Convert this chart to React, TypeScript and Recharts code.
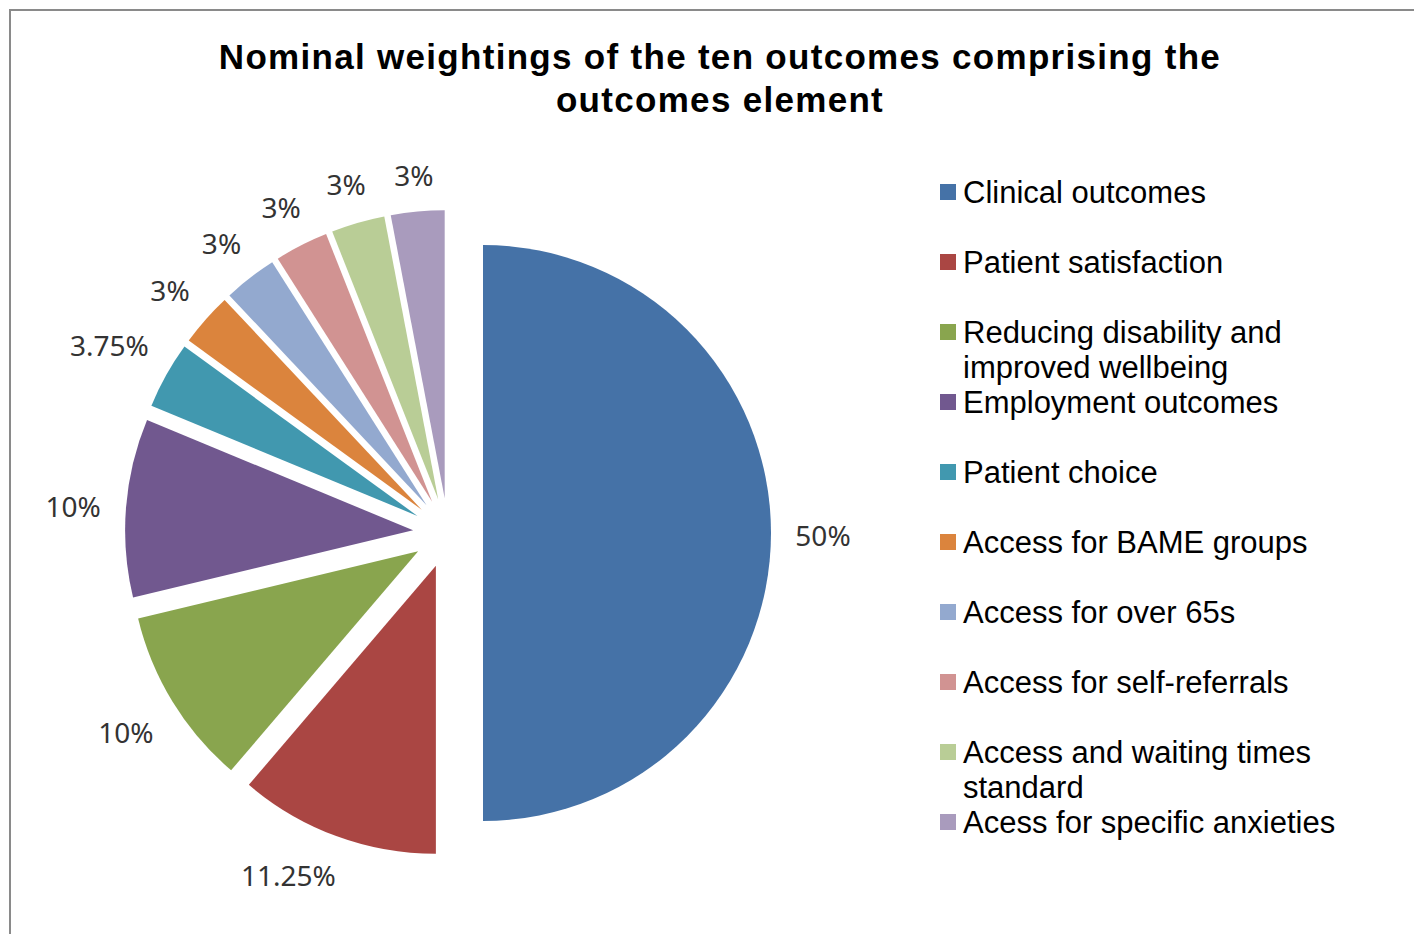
import React from 'react';
import { PieChart, Pie, Cell, Legend, Sector } from 'recharts';

const outcomes = [
  'Clinical outcomes',
  'Patient satisfaction',
  'Reducing disability and improved wellbeing',
  'Employment outcomes',
  'Patient choice',
  'Access for BAME groups',
  'Access for over 65s',
  'Access for self-referrals',
  'Access and waiting times standard',
  'Acess for specific anxieties',
];
const weightings = [50, 11.25, 10, 10, 3.75, 3, 3, 3, 3, 3];
const colors = ['#4572A7', '#AA4643', '#89A54E', '#71588F', '#4198AF', '#DB843D', '#93A9CF', '#D19392', '#B9CD96', '#A99BBD'];

const data = outcomes.map((name, i) => ({ name, value: weightings[i] }));

const RAD = Math.PI / 180;
const EXPLODE = 35;
const LABEL_MAX_Y = 873; // labels are kept inside the plot area

// each slice is pushed out along its mid angle (Excel style exploded pie)
const renderSlice = (props: any) => {
  const { cx, cy, midAngle, innerRadius, outerRadius, startAngle, endAngle, index, value } = props;
  const ux = Math.cos(-midAngle * RAD);
  const uy = Math.sin(-midAngle * RAD);
  const sx = cx + EXPLODE * ux;
  const sy = cy + EXPLODE * uy;
  const text = `${value}%`;
  const w = text.split('').reduce((s: number, c: string) => s + (c === '.' ? 7.5 : c === '%' ? 24 : 16), 0);
  const h = 26;
  const dist = outerRadius + 24 + (Math.abs(ux) * w) / 2 + (Math.abs(uy) * h) / 2;
  let lx = sx + dist * ux;
  let ly = sy + dist * uy;
  if (ly > LABEL_MAX_Y) {
    // slide the label round the same circle until it fits
    const dy = LABEL_MAX_Y - sy;
    const dx = Math.sqrt(Math.max(dist * dist - dy * dy, 0));
    lx = sx + (ux < 0 ? -dx : dx);
    ly = LABEL_MAX_Y;
  }
  return (
    <g>
      <Sector
        cx={sx}
        cy={sy}
        innerRadius={innerRadius}
        outerRadius={outerRadius}
        startAngle={startAngle}
        endAngle={endAngle}
        fill={colors[index]}
        stroke="none"
      />
      <text
        x={lx}
        y={ly + 2}
        textAnchor="middle"
        dominantBaseline="central"
        fontFamily='"Noto Sans", sans-serif'
        fontSize={28}
        fill="#333"
      >
        {text}
      </text>
    </g>
  );
};

const renderLegend = () => (
  <div style={{ fontFamily: '"Liberation Sans", Arial, sans-serif', fontSize: 31, lineHeight: '35px', color: '#000' }}>
    {outcomes.map((name, i) => (
      <div key={name} style={{ position: 'relative', minHeight: 70, paddingLeft: 23 }}>
        <span style={{ position: 'absolute', left: 0, top: 9, width: 16, height: 16, background: colors[i] }} />
        {name}
      </div>
    ))}
  </div>
);

export default function App() {
  return (
    <div style={{ position: 'absolute', left: 0, top: 0, width: 1414, height: 934, overflow: 'hidden', background: '#fff' }}>
      <div
        style={{
          position: 'absolute',
          left: 9,
          top: 9,
          width: 1440,
          height: 960,
          border: '2px solid #8a8a8a',
        }}
      />
      <div
        style={{
          position: 'absolute',
          left: 0,
          top: 35,
          width: 1440,
          textAlign: 'center',
          fontFamily: '"Liberation Sans", Arial, sans-serif',
          fontWeight: 'bold',
          fontSize: 35,
          lineHeight: '43px',
          letterSpacing: 1.3,
          color: '#000',
        }}
      >
        Nominal weightings of the ten outcomes comprising the
        <br />
        outcomes element
      </div>
      <div style={{ position: 'absolute', left: 0, top: 0 }}>
        <PieChart width={1414} height={934} margin={{ top: 0, right: 0, bottom: 0, left: 0 }}>
          <Pie
            data={data}
            dataKey="value"
            nameKey="name"
            cx={448}
            cy={533}
            outerRadius={288}
            startAngle={90}
            endAngle={-270}
            stroke="none"
            label={renderSlice}
            labelLine={false}
            isAnimationActive={false}
          >
            {data.map((d, i) => (
              <Cell key={d.name} fill={colors[i]} fillOpacity={0} />
            ))}
          </Pie>
          <Legend
            layout="vertical"
            align="right"
            verticalAlign="top"
            content={renderLegend}
            wrapperStyle={{ left: 940, top: 175, width: 430, right: 'auto' }}
          />
        </PieChart>
      </div>
    </div>
  );
}
